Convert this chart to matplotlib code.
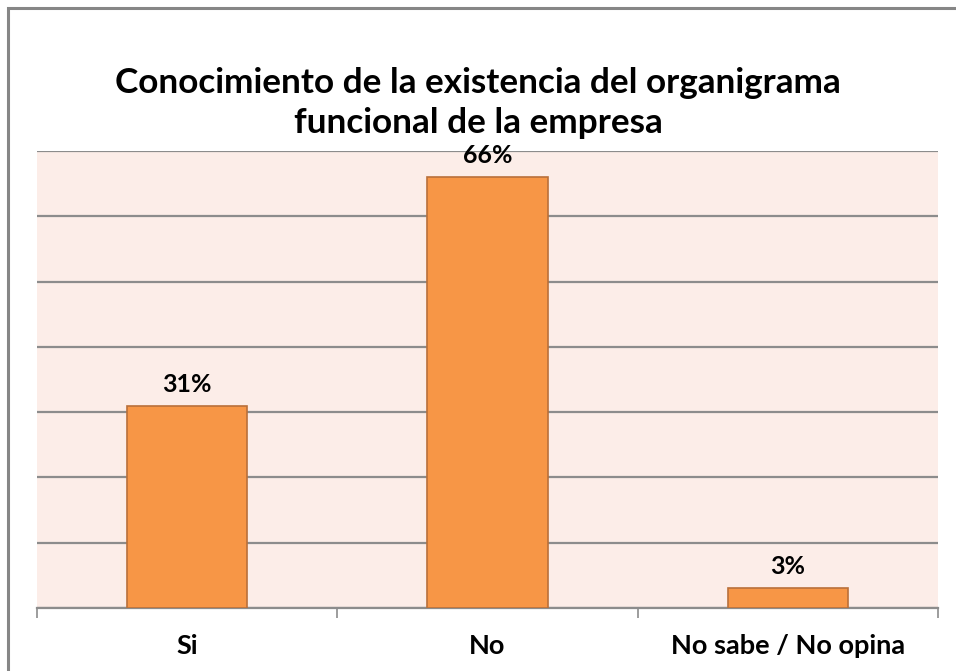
import matplotlib.pyplot as plt
from matplotlib.patches import Rectangle

# Datos
categorias = ['Si', 'No', 'No sabe / No opina']
porcentajes = [31, 66, 3]
etiquetas = ['31%', '66%', '3%']

plt.rcParams['font.family'] = ['Lato', 'DejaVu Sans']

fig = plt.figure(figsize=(9.56, 6.71), dpi=100)
ax = fig.add_axes([37/956, 1 - 608/671, 901/956, (608 - 151)/671])

# marco del gráfico
fig.patches.append(Rectangle((7.5/956, -0.1), 1.2, 1 - 7.5/671 + 0.1, transform=fig.transFigure,
                             fill=False, edgecolor='#868686', linewidth=2.2))

x = range(len(categorias))
ax.set_facecolor('#FCEDE8')
ax.bar(x, porcentajes, width=0.4, color='#F79646', edgecolor='#B9703A', linewidth=1.2, zorder=3)

for xi, v, t in zip(x, porcentajes, etiquetas):
    ax.text(xi, v + 3.3, t, ha='center', va='center', fontsize=18, fontweight='bold')

ax.set_xlim(-0.5, 2.5)
ax.set_ylim(0, 70)
ax.set_yticks(range(0, 71, 10))
ax.yaxis.grid(True, color='#8C8C8C', linewidth=1.6, zorder=1)
ax.tick_params(axis='y', left=False, labelleft=False)

ax.set_xticks(list(x))
ax.set_xticklabels(categorias, fontsize=19.5, fontweight='bold')
ax.set_xticks([-0.5, 0.5, 1.5, 2.5], minor=True)
ax.tick_params(axis='x', which='major', length=0, pad=18.5)
ax.tick_params(axis='x', which='minor', length=7, color='#8C8C8C', width=1.2)

for s in ['top', 'left', 'right']:
    ax.spines[s].set_visible(False)
ax.spines['bottom'].set_color('#8C8C8C')
ax.spines['bottom'].set_linewidth(1.6)

fig.text(0.5, 1 - 83/671, 'Conocimiento de la existencia del organigrama',
         ha='center', va='center', fontsize=25.3, fontweight='bold')
fig.text(0.5, 1 - 123/671, 'funcional de la empresa',
         ha='center', va='center', fontsize=25.3, fontweight='bold')

fig.savefig('out.png', dpi=100)
